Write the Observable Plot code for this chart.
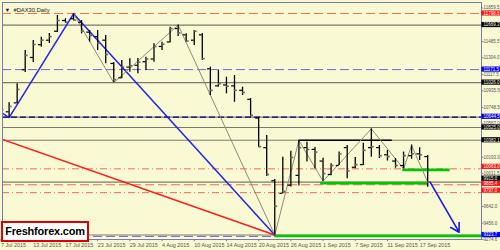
<!DOCTYPE html>
<html><head><meta charset="utf-8">
<script src="https://cdn.jsdelivr.net/npm/d3@7"></script>
<script src="https://cdn.jsdelivr.net/npm/@observablehq/plot@0.6"></script>
<style>
html,body{margin:0;padding:0;background:#F9F9D3;}
#wrap{position:relative;width:500px;height:250px;overflow:hidden;background:#F9F9D3;}
#wrap svg{display:block;}
#logo{position:absolute;left:1px;top:221px;width:84px;height:17px;border:2px solid #e00000;background:#fff;
font:bold 11px "Liberation Sans",Arial,sans-serif;color:#000;line-height:17px;text-align:center;letter-spacing:-0.2px;}
</style></head>
<body><div id="wrap"><div id="logo">Freshforex.com</div></div>
<script>
const dates = ["2015-07-06","2015-07-07","2015-07-08","2015-07-09","2015-07-10","2015-07-13","2015-07-14","2015-07-15","2015-07-16","2015-07-17","2015-07-20","2015-07-21","2015-07-22","2015-07-23","2015-07-24","2015-07-27","2015-07-28","2015-07-29","2015-07-30","2015-07-31","2015-08-03","2015-08-04","2015-08-05","2015-08-06","2015-08-07","2015-08-10","2015-08-11","2015-08-12","2015-08-13","2015-08-14","2015-08-17","2015-08-18","2015-08-19","2015-08-20","2015-08-21","2015-08-24","2015-08-25","2015-08-26","2015-08-27","2015-08-28","2015-08-31","2015-09-01","2015-09-02","2015-09-03","2015-09-04","2015-09-07","2015-09-08","2015-09-09","2015-09-10","2015-09-11","2015-09-14","2015-09-15","2015-09-16","2015-09-17","2015-09-18"];
const opens  = [10800,10880,10700,10800,11170,11307,11450,11500,11600,11720,11740,11700,11590,11540,11500,11240,11080,11200,11220,11260,11290,11430,11480,11630,11560,11500,11560,11180,10990,11000,10990,10940,10840,10630,10300,9930,9790,9880,9990,10300,10280,10150,10000,10100,10300,10080,10110,10300,10300,10220,10150,10100,10210,10230,10200];
const highs  = [10950,10930,10800,11013,11385,11497,11533,11575,11776,11740,11795,11720,11608,11608,11553,11250,11273,11292,11295,11310,11460,11478,11645,11669,11571,11608,11575,11198,11161,11087,11105,10975,10848,10640,10435,9945,10193,10260,10380,10360,10300,10180,10120,10250,10324,10190,10350,10510,10324,10268,10180,10250,10330,10298,10212];
const lows   = [10680,10700,10636,10790,11139,11251,11422,11463,11586,11690,11720,11571,11478,11385,11236,11026,11070,11142,11125,11161,11254,11385,11470,11540,11478,11440,11273,10882,10975,10901,10807,10882,10640,10300,9977,9323.7,9784,9860,9870,10140,10063,9925,9985,10100,9952,10063,10100,10193,10178,10150,10070,10063,10170,10156,9858];
const closes = [10890,10720,10760,10950,11330,11452,11500,11540,11720,11700,11725,11600,11552,11470,11340,11060,11200,11215,11255,11290,11430,11455,11630,11580,11490,11600,11295,10940,11014,10985,10940,10915,10660,10310,10000,9645,9810,10190,10300,10280,10250,10010,10100,10230,10040,10110,10270,10310,10210,10200,10100,10210,10230,10220,9915];

// zigzag / trend lines (bar index, price)
const grayZigIdx = [10,15,23,35,38,41,47,51,52,54];
const grayZigVal = [11795,11026,11669,9323.7,10380,9925,10510,10063,10324,9915];
const blueZigIdx = [-1,2,10,35];
const blueZigVal = [10810,10636,11795,9323.7];
const redTrendIdx = [-1,35];
const redTrendVal = [10461,9323.7];
const arrowIdx = [54.3,57.9];
const arrowVal = [9914,9355];

// horizontal levels
const grayLevels = [11669.3,11026.0,10640,10525.0,10382.1,9915.0,9323.7];
const redDashLevels = [11798.6,9885.4];
const redDashDotLevels = [10063.0,9797.0];
const blueDashLevels = [11171.5,9308];
const navyDashLevels = [10640];
const boxStartIdx = [38]; const boxEndIdx = [49.6]; const boxLevel = [10382.1];
const greenStart = [40.7,50.9,35]; const greenEnd = [54,56.8,61]; const greenLevel = [9915,10063,9323.7];

// axis labels
const priceTicks = [11859.5,11485.5,11304.0,11117.5,10935.5,10748.5,10567.0,10193.0,10011.5,9642.0,9456.0,9274.6];
const redLabels = [11798.6,10063.0,9885.4,9797.0];
const blackLabels = [11669.3,11026.0,10525.0,10382.1,9915.0];
const blueLabels = [11171.5,10644.5,9323.7];
const title = "#DAX30,Daily";

const bars = dates.map((d,i)=>({i,d,o:opens[i],h:highs[i],l:lows[i],c:closes[i]}));
const mon = ["Jan","Feb","Mar","Apr","May","Jun","Jul","Aug","Sep","Oct","Nov","Dec"];
const dateLabels = bars.filter(b => b.i % 4 === 1).map(b => {
  const [y,m,dd] = b.d.split("-");
  return {i:b.i, t:`${+dd} ${mon[+m-1]} ${y}`};
});
const zip = (a,b)=>a.map((x,k)=>({x, y:b[k]}));
const F = '"Liberation Sans", Arial, sans-serif';
const xr = 60.683;
// label placement nudges so the stacked price tags stay readable (as the terminal does)
const labY = d => d === 9915 ? d + 38 : d === 9885.4 ? d + 10 : (d > 9500 && d < 10100 ? d + 22 : d);
const tickY = d => d < 9300 ? d - 5 : d;

const chart = Plot.plot({
  width: 500, height: 250,
  marginLeft: 2, marginRight: 19, marginTop: 2, marginBottom: 11,
  x: {domain: [1.18, xr], axis: null},
  y: {domain: [9273.7, 11921], axis: null},
  style: {background: "#F9F9D3", fontFamily: F},
  marks: [
    Plot.ruleY(grayLevels, {stroke: "#7b7b6a", strokeWidth: 1.2}),
    Plot.ruleY(navyDashLevels, {stroke: "#000080", strokeWidth: 1.3, strokeDasharray: "6,3"}),
    Plot.ruleY(redDashLevels, {stroke: "#f06a5a", strokeWidth: 1, strokeDasharray: "9,4"}),
    Plot.ruleY(redDashDotLevels, {stroke: "#f06a5a", strokeWidth: 1, strokeDasharray: "7,3,1,3"}),
    Plot.ruleY(blueDashLevels, {stroke: "#6868e0", strokeWidth: 1, strokeDasharray: "9,4"}),
    Plot.ruleY(boxLevel.map((v,k)=>({v,a:boxStartIdx[k],b:boxEndIdx[k]})), {y:"v", x1:"a", x2:"b", stroke:"#000", strokeWidth:1.3, clip:true}),
    Plot.ruleY(greenLevel.map((v,k)=>({v,a:greenStart[k],b:greenEnd[k]})), {y:"v", x1:"a", x2:"b", stroke:"#00c800", strokeWidth:2.6, dy:1, clip:true}),
    Plot.line(zip(redTrendIdx, redTrendVal), {x:"x", y:"y", stroke:"#ff1a1a", strokeWidth:1.5, clip:true}),
    Plot.line(zip(blueZigIdx, blueZigVal), {x:"x", y:"y", stroke:"#2222ee", strokeWidth:1.5, clip:true}),
    Plot.line(zip(grayZigIdx, grayZigVal), {x:"x", y:"y", stroke:"#8c8c7a", strokeWidth:1, clip:true}),
    Plot.ruleX(bars, {x:"i", y1:"l", y2:"h", stroke:"#000", strokeWidth:1.3, clip:true}),
    Plot.ruleY(bars, {y:"o", x1: d=>d.i-0.36, x2:"i", stroke:"#000", strokeWidth:1.2, clip:true}),
    Plot.ruleY(bars, {y:"c", x1:"i", x2: d=>d.i+0.36, stroke:"#666", strokeWidth:1.6, clip:true}),
    Plot.arrow([{x1:arrowIdx[0], y1:arrowVal[0], x2:arrowIdx[1], y2:arrowVal[1]}], {x1:"x1", y1:"y1", x2:"x2", y2:"y2", stroke:"#1a1af0", strokeWidth:1.6, headLength:9}),
    Plot.frame({stroke:"#7a7aae", strokeWidth:1}),
    // right axis
    Plot.ruleY(priceTicks, {x1: xr, x2: xr+0.3, stroke:"#7a7aae"}),
    Plot.text(priceTicks, {y: tickY, text: d=>d.toFixed(1), frameAnchor:"right", dx:2, textAnchor:"start", fontSize:4.5, fill:"#555"}),
    Plot.rect(redLabels, {y1: d=>labY(d)-29, y2: d=>labY(d)+29, x1: xr+0.05, x2: xr+3, fill:"#ff1010"}),
    Plot.rect(blackLabels, {y1: d=>labY(d)-29, y2: d=>labY(d)+29, x1: xr+0.05, x2: xr+3, fill:"#000"}),
    Plot.rect(blueLabels, {y1: d=>labY(d)-29, y2: d=>labY(d)+29, x1: xr+0.05, x2: xr+3, fill:"#0000ee"}),
    Plot.text([...redLabels, ...blackLabels, ...blueLabels], {y: labY, text: d=>d.toFixed(1), frameAnchor:"right", dx:2, textAnchor:"start", fontSize:4.5, fill:"#fff"}),
    // bottom axis
    Plot.ruleX(dateLabels, {x:"i", y1: 9273.7, y2: 9250, stroke:"#7a7aae"}),
    Plot.text(dateLabels, {x:"i", text:"t", frameAnchor:"bottom", dy:7, textAnchor:"start", fontSize:5.4, fill:"#555"}),
    // title
    Plot.text([title], {text: d=>"\u25BC  " + d, frameAnchor:"top-left", dx:2, dy:5, textAnchor:"start", fontSize:5.8, fill:"#222"})
  ]
});
document.getElementById("wrap").prepend(chart);
</script>
</body></html>
